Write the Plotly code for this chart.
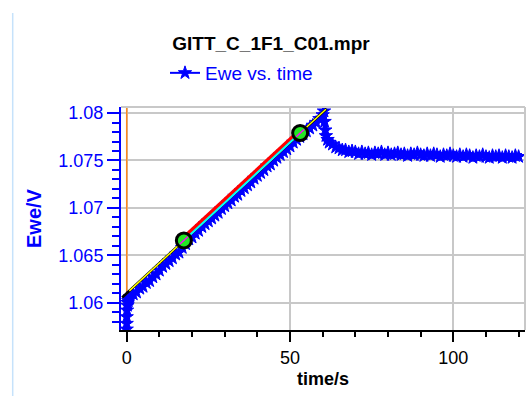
import plotly.graph_objects as go

# ---------------- data ----------------
time_s = [0, 0, 0, 0.1, 0.2, 0.3, 0.5, 0.7,
          1, 2, 3, 4, 5, 6, 7, 8, 9, 10,
          11, 12, 13, 14, 15, 16, 17, 18, 19, 20,
          21, 22, 23, 24, 25, 26, 27, 28, 29, 30,
          31, 32, 33, 34, 35, 36, 37, 38, 39, 40,
          41, 42, 43, 44, 45, 46, 47, 48, 49, 50,
          51, 52, 53, 54, 55, 56, 57, 58, 59, 60,
          60.4, 60.6, 60.8, 61, 61.5, 62, 63, 64, 65, 66, 67, 68, 69,
          70, 71, 72, 73, 74, 75, 76, 77, 78, 79,
          80, 81, 82, 83, 84, 85, 86, 87, 88, 89,
          90, 91, 92, 93, 94, 95, 96, 97, 98, 99,
          100, 101, 102, 103, 104, 105, 106, 107, 108, 109,
          110, 111, 112, 113, 114, 115, 116, 117, 118, 119, 120]
ewe_V = [1.0572, 1.0578, 1.0585, 1.0592, 1.0597, 1.0600, 1.0602, 1.0604,
         1.0606, 1.0609, 1.0611, 1.0615, 1.0617, 1.0621, 1.0623, 1.0627, 1.0630, 1.0634,
         1.0638, 1.0641, 1.0644, 1.0647, 1.0651, 1.0653, 1.0658, 1.0662, 1.0667, 1.0669,
         1.0673, 1.0676, 1.0680, 1.0683, 1.0686, 1.0689, 1.0692, 1.0695, 1.0699, 1.0702,
         1.0705, 1.0708, 1.0712, 1.0714, 1.0718, 1.0721, 1.0724, 1.0727, 1.0731, 1.0734,
         1.0737, 1.0740, 1.0744, 1.0746, 1.0750, 1.0753, 1.0756, 1.0759, 1.0762, 1.0765,
         1.0769, 1.0772, 1.0775, 1.0778, 1.0781, 1.0784, 1.0787, 1.0790, 1.0794, 1.0798,
         1.0802, 1.0791, 1.0782, 1.0776, 1.0772, 1.0769, 1.0767, 1.0764, 1.0763, 1.0761, 1.0761, 1.0759, 1.0760,
         1.0759, 1.0757, 1.0759, 1.0757, 1.0758, 1.0756, 1.0758, 1.0757, 1.0759, 1.0756,
         1.0758, 1.0756, 1.0757, 1.0758, 1.0756, 1.0757, 1.0755, 1.0757, 1.0756, 1.0758,
         1.0756, 1.0755, 1.0757, 1.0755, 1.0757, 1.0756, 1.0754, 1.0756, 1.0755, 1.0757,
         1.0755, 1.0754, 1.0756, 1.0754, 1.0756, 1.0755, 1.0753, 1.0755, 1.0754, 1.0756,
         1.0754, 1.0753, 1.0755, 1.0754, 1.0755, 1.0753, 1.0755, 1.0754, 1.0753, 1.0755, 1.0754]

# linear fit line (black) and its yellow overlay
fit_t = [-1.4, 61.2]
fit_E = [1.06055, 1.08046]
yellow_t = [0.8, 61.0]
yellow_E = [1.06125, 1.08040]
# selected region between the two cursors
red_t = [17.5, 53.1]
red_E = [1.06687, 1.07819]
cyan_t = [17.5, 53.1]
cyan_E = [1.06657, 1.07789]
# cursor points
cursor_t = [17.5, 53.1]
cursor_E = [1.06657, 1.07789]
magenta_t = [16.3, 18.7, None, 51.9, 54.3]
magenta_E = [1.06619, 1.06695, None, 1.07751, 1.07827]
# orange trace at t = 0
orange_t = [0.0, 0.0]
orange_E = [1.0571, 1.0807]

y_ticks = [1.06, 1.065, 1.07, 1.075, 1.08]
y_ticktext = ["1.06", "1.065", "1.07", "1.075", "1.08"]
x_ticks = [0, 50, 100]
x_ticktext = ["0", "50", "100"]

FONT = "Liberation Sans, Arial, sans-serif"
BLUE = "#0000ff"

fig = go.Figure()

fig.add_trace(go.Scatter(x=orange_t, y=orange_E, mode="lines",
                         line=dict(color="#ff8a1c", width=1.5),
                         showlegend=False, hoverinfo="skip"))
# thick underlay that gives the dense data band its width
fig.add_trace(go.Scatter(x=time_s, y=ewe_V, mode="lines",
                         line=dict(color=BLUE, width=5),
                         showlegend=False, hoverinfo="skip"))
fig.add_trace(go.Scatter(x=time_s, y=ewe_V, mode="lines+markers", name="Ewe vs. time",
                         line=dict(color=BLUE, width=2),
                         marker=dict(symbol="star", size=10, color=BLUE,
                                     line=dict(color=BLUE, width=1))))
fig.add_trace(go.Scatter(x=fit_t, y=fit_E, mode="lines",
                         line=dict(color="#000000", width=2.5),
                         showlegend=False, hoverinfo="skip"))
fig.add_trace(go.Scatter(x=yellow_t, y=yellow_E, mode="lines",
                         line=dict(color="#ffff00", width=1.5),
                         showlegend=False, hoverinfo="skip"))
fig.add_trace(go.Scatter(x=red_t, y=red_E, mode="lines",
                         line=dict(color="#ff0000", width=4),
                         showlegend=False, hoverinfo="skip"))
fig.add_trace(go.Scatter(x=cyan_t, y=cyan_E, mode="lines",
                         line=dict(color="#00ffff", width=2),
                         showlegend=False, hoverinfo="skip"))
fig.add_trace(go.Scatter(x=cursor_t, y=cursor_E, mode="markers",
                         marker=dict(symbol="circle", size=15, color="#22e622",
                                     line=dict(color="#000000", width=3)),
                         showlegend=False, hoverinfo="skip"))
fig.add_trace(go.Scatter(x=magenta_t, y=magenta_E, mode="lines",
                         line=dict(color="#ff00ff", width=1.5),
                         showlegend=False, hoverinfo="skip"))

fig.update_layout(
    width=527, height=396,
    margin=dict(l=121, r=2, t=107, b=66, autoexpand=False),
    paper_bgcolor="white", plot_bgcolor="white",
    font=dict(family=FONT, size=18, color="black"),
    title=dict(text="<b>GITT_C_1F1_C01.mpr</b>", x=271/527, xref="container",
               xanchor="center", y=1 - 43/396, yref="container", yanchor="middle",
               font=dict(family=FONT, size=19, color="black")),
    showlegend=True,
    legend=dict(x=165/527, xref="container", xanchor="left",
                y=1 - 73/396, yref="container", yanchor="middle",
                font=dict(family=FONT, size=19, color=BLUE),
                bgcolor="rgba(0,0,0,0)", borderwidth=0),
    annotations=[
        dict(text="<b>Ewe/V</b>", xref="paper", yref="paper",
             x=(34 - 121)/404, y=(330 - 218)/223, xanchor="center", yanchor="middle",
             textangle=-90, showarrow=False,
             font=dict(family=FONT, size=20, color=BLUE)),
    ],
    shapes=[
        # window border on the left
        dict(type="line", xref="paper", yref="paper",
             x0=-108.3/404, x1=-108.3/404, y0=(330-13)/223, y1=-66/223,
             line=dict(color="#c6e2fb", width=1.5)),
        # top and right frame of the plot area
        dict(type="line", xref="paper", yref="paper", x0=0, x1=1, y0=1, y1=1,
             line=dict(color="#c8c8c8", width=2)),
        dict(type="line", xref="paper", yref="paper", x0=1, x1=1, y0=0, y1=1,
             line=dict(color="#c8c8c8", width=2)),
    ],
)

fig.update_xaxes(
    range=[-1.745, 121.95], tickmode="array", tickvals=x_ticks, ticktext=x_ticktext,
    ticks="outside", ticklen=10, tickwidth=1.5, tickcolor="black",
    minor=dict(dtick=10, tick0=0, ticks="outside", ticklen=5, tickwidth=1.5,
               tickcolor="black", showgrid=False),
    showline=True, linecolor="black", linewidth=2,
    showgrid=True, gridcolor="#c8c8c8", gridwidth=2, zeroline=False,
    tickfont=dict(family=FONT, size=18, color="black"),
    title=dict(text="<b>time/s</b>", standoff=6,
               font=dict(family=FONT, size=18, color="black")),
)
fig.update_yaxes(
    range=[1.05712, 1.08064], tickmode="array", tickvals=y_ticks, ticktext=y_ticktext,
    ticks="outside", ticklen=12, tickwidth=2, tickcolor=BLUE,
    minor=dict(dtick=0.001, tick0=1.06, ticks="outside", ticklen=7, tickwidth=1.5,
               tickcolor=BLUE, showgrid=False),
    showline=True, linecolor=BLUE, linewidth=2,
    showgrid=True, gridcolor="#c8c8c8", gridwidth=2, zeroline=False,
    tickfont=dict(family=FONT, size=18, color=BLUE),
)

fig.write_html("out.html")
